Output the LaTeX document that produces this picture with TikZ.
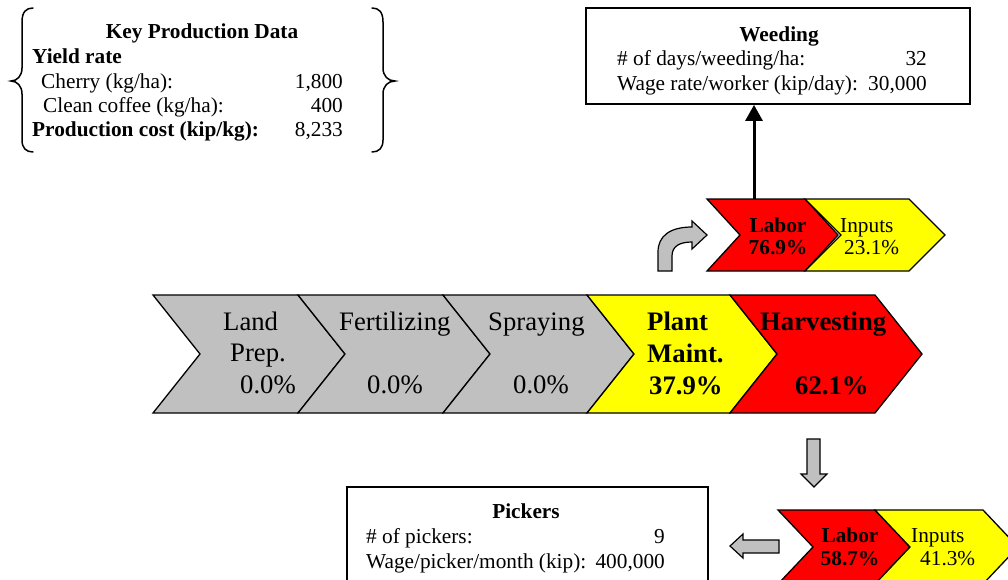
\documentclass[tikz,border=0pt]{standalone}
\usepackage{fontspec}
\setmainfont{Liberation Serif}
\usetikzlibrary{arrows.meta}
\definecolor{stagegray}{HTML}{C0C0C0}
\definecolor{stagered}{HTML}{FF0000}
\definecolor{stageyellow}{HTML}{FFFF00}

% chevron: #1 left x, #2 top y, #3 top length, #4 height, #5 point depth, #6 fill
\newcommand{\chevronshape}[6]{%
  \filldraw[chev, fill=#6] (#1,#2) -- ++(#3,0) -- ++(#5,#4/2) -- ++(-#5,#4/2)
    -- ++(-#3,0) -- ++(#5,-#4/2) -- cycle;}

\begin{document}
\begin{tikzpicture}[x=1pt, y=-1pt,
  txt/.style={inner sep=0pt, font=\fontsize{21.3}{24}\selectfont},
  bigtxt/.style={inner sep=0pt, font=\fontsize{26.7}{30}\selectfont},
  chev/.style={draw=black, line width=1.3pt, line join=miter},
  blockarrow/.style={draw=black, fill=stagegray, line width=1.2pt, line join=miter},
  frame/.style={draw=black, line width=1.8pt, inner sep=0pt},
  brace/.style={draw=black, line width=1.5pt, line cap=round},
  link/.style={draw=black, line width=3pt, -{Triangle[length=16pt, width=17pt]}}]

\useasboundingbox (0,0) rectangle (1008,579);
\clip (0,0) rectangle (1008,579);

% ---- key production data ----
\draw[brace] (33,8) .. controls (26,8) and (22,12) .. (22,22) -- (22,68)
  .. controls (22,76) and (17,81) .. (11,81) .. controls (17,81) and (22,86) .. (22,94)
  -- (22,140) .. controls (22,148) and (26,152) .. (33,152);
\draw[brace] (372,8) .. controls (379,8) and (383,12) .. (383,22) -- (383,68)
  .. controls (383,76) and (388,81) .. (395,81) .. controls (388,81) and (383,86) .. (383,94)
  -- (383,140) .. controls (383,148) and (379,152) .. (372,152);
\node[txt, anchor=base] (keyhead) at (202,38) {\bfseries Key Production Data};
\node[txt, anchor=base west] (yield) at (32,63) {\bfseries Yield rate};
\node[txt, anchor=base west] (cherry) at (41,88) {Cherry (kg/ha):};
\node[txt, anchor=base east] (cherryv) at (343,88) {1,800};
\node[txt, anchor=base west] (clean) at (43,112) {Clean coffee (kg/ha):};
\node[txt, anchor=base east] (cleanv) at (343,112) {400};
\node[txt, anchor=base west] (cost) at (32,136) {\bfseries Production cost (kip/kg):};
\node[txt, anchor=base east] (costv) at (343,136) {8,233};

% ---- weeding box ----
\node[frame, minimum width=384pt, minimum height=96pt] (weed) at (778,56) {};
\node[txt, anchor=base] (weedhead) at (779,41) {\bfseries Weeding};
\node[txt, anchor=base west] (days) at (617,65) {\# of days/weeding/ha:};
\node[txt, anchor=base east] (daysv) at (927,65) {32};
\node[txt, anchor=base west] (wage) at (617,90) {Wage rate/worker (kip/day):};
\node[txt, anchor=base east] (wagev) at (927,90) {30,000};

% ---- main value chain ----
\chevronshape{153}{295}{145}{118}{47}{stagegray}
\chevronshape{298}{295}{145}{118}{47}{stagegray}
\chevronshape{443}{295}{144}{118}{47}{stagegray}
\chevronshape{587}{295}{143}{118}{47}{stageyellow}
\chevronshape{730}{295}{145}{118}{47}{stagered}

\node[bigtxt, anchor=base west] (land1) at (223,330) {Land};
\node[bigtxt, anchor=base west] (land2) at (230,361) {Prep.};
\node[bigtxt, anchor=base west] (land3) at (240,393) {0.0\%};
\node[bigtxt, anchor=base west] (fert1) at (339,330) {Fertilizing};
\node[bigtxt, anchor=base west] (fert2) at (367,393) {0.0\%};
\node[bigtxt, anchor=base west] (spray1) at (488,330) {Spraying};
\node[bigtxt, anchor=base west] (spray2) at (513,393) {0.0\%};
\node[bigtxt, anchor=base west] (plant1) at (647,330) {\bfseries Plant};
\node[bigtxt, anchor=base west] (plant2) at (647,362) {\bfseries Maint.};
\node[bigtxt, anchor=base west] (plant3) at (649,394) {\bfseries 37.9\%};
\node[bigtxt, anchor=base west] (harv1) at (760,330) {\bfseries Harvesting};
\node[bigtxt, anchor=base west] (harv2) at (795,394) {\bfseries 62.1\%};

% ---- plant maintenance breakdown ----
\filldraw[blockarrow] (658,271) -- (658,252) .. controls (658,236) and (670,227) .. (692,227)
  -- (692,221) -- (707,235) -- (692,249) -- (692,242)
  .. controls (680,242) and (672,246) .. (672,256) -- (672,271) -- cycle;
\chevronshape{707}{199}{98}{72}{33}{stagered}
\chevronshape{805}{199}{104}{72}{36}{stageyellow}
\coordinate (labtop) at (754,199);
\node[txt, anchor=base] (lab1) at (778,232) {\bfseries Labor};
\node[txt, anchor=base] (lab2) at (778,254) {\bfseries 76.9\%};
\node[txt, anchor=base west] (inp1) at (840,232) {Inputs};
\node[txt, anchor=base west] (inp2) at (844,254) {23.1\%};
\draw[link] (labtop) -- (labtop |- weed.south);

% ---- harvesting breakdown ----
\filldraw[blockarrow] (807,439) -- (820,439) -- (820,474) -- (827,474) -- (814,487)
  -- (801,474) -- (807,474) -- cycle;
\chevronshape{778}{510}{97}{74}{35}{stagered}
\chevronshape{875}{510}{108}{74}{35}{stageyellow}
\node[txt, anchor=base] (hlab1) at (850,542) {\bfseries Labor};
\node[txt, anchor=base] (hlab2) at (850,565) {\bfseries 58.7\%};
\node[txt, anchor=base west] (hinp1) at (911,542) {Inputs};
\node[txt, anchor=base west] (hinp2) at (920,565) {41.3\%};
\filldraw[blockarrow] (779,540) -- (743,540) -- (743,534) -- (730,546) -- (743,558)
  -- (743,553) -- (779,553) -- cycle;

% ---- pickers box ----
\node[frame, minimum width=361pt, minimum height=120pt, anchor=north west] (pick) at (346,486) {};
\node[txt, anchor=base] (pickhead) at (526,518) {\bfseries Pickers};
\node[txt, anchor=base west] (pnum) at (366,543) {\# of pickers:};
\node[txt, anchor=base east] (pnumv) at (665,543) {9};
\node[txt, anchor=base west] (pwage) at (366,568) {Wage/picker/month (kip):};
\node[txt, anchor=base east] (pwagev) at (665,568) {400,000};
\end{tikzpicture}
\end{document}
